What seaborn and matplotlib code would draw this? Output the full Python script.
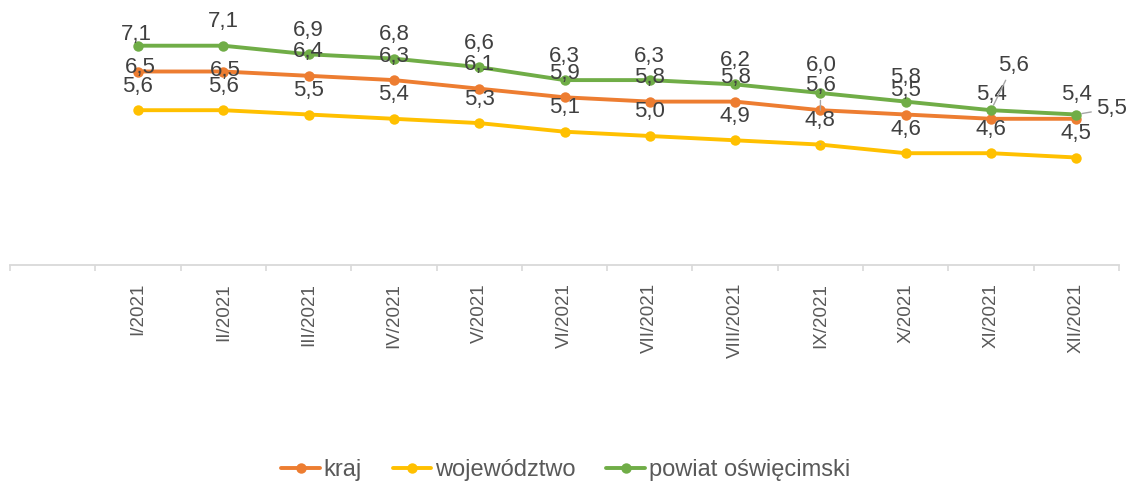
import matplotlib
matplotlib.use("Agg")
import matplotlib.pyplot as plt
import seaborn as sns
import pandas as pd
import numpy as np

# ---- data ----
months = ["I/2021", "II/2021", "III/2021", "IV/2021", "V/2021", "VI/2021",
          "VII/2021", "VIII/2021", "IX/2021", "X/2021", "XI/2021", "XII/2021"]
kraj = [6.5, 6.5, 6.4, 6.3, 6.1, 5.9, 5.8, 5.8, 5.6, 5.5, 5.4, 5.4]
wojewodztwo = [5.6, 5.6, 5.5, 5.4, 5.3, 5.1, 5.0, 4.9, 4.8, 4.6, 4.6, 4.5]
powiat = [7.1, 7.1, 6.9, 6.8, 6.6, 6.3, 6.3, 6.2, 6.0, 5.8, 5.6, 5.5]
series_names = ["kraj", "województwo", "powiat oświęcimski"]

sns.set_theme(style="white")
plt.rcParams["font.family"] = ["Liberation Sans", "DejaVu Sans"]

colors = {"kraj": "#ED7D31", "województwo": "#FFC000", "powiat oświęcimski": "#70AD47"}

# long-form table (first category of the axis is empty, months start at 1)
rows = []
for name, vals in zip(series_names, [kraj, wojewodztwo, powiat]):
    for i, v in enumerate(vals):
        rows.append({"pos": i + 1, "month": months[i], "series": name, "value": v})
df = pd.DataFrame(rows)

fig = plt.figure(figsize=(11.31, 4.87), dpi=100)
W, H = 1131, 487
ax = fig.add_axes([10 / W, 1 - 265 / H, (1119 - 10) / W, (265 - 7) / H])

sns.lineplot(data=df, x="pos", y="value", hue="series", hue_order=series_names,
             palette=colors, marker="o", markersize=7.5, markeredgewidth=0,
             linewidth=2.8, ax=ax, legend=True)

ax.set_xlim(-0.5, 12.5)
ax.set_ylim(2, 8)
ax.set_xlabel("")
ax.set_ylabel("")
ax.set_yticks([])
ax.set_xticks(np.arange(0, 13))
ax.set_xticklabels([""] + months, rotation=90, color="#595959", fontsize=13.5)
ax.set_xticks(np.arange(-0.5, 13.0, 1.0), minor=True)
ax.tick_params(axis="x", which="major", length=0, pad=13)
ax.tick_params(axis="x", which="minor", length=4.5, width=1.2, color="#d9d9d9", bottom=True)
for s in ["top", "right", "left"]:
    ax.spines[s].set_visible(False)
ax.spines["bottom"].set_color("#d9d9d9")
ax.spines["bottom"].set_linewidth(1.3)

# ---- data labels (offsets in pixels from each point, image-down positive) ----
default_off = (0, -24)
label_offsets = {
    "kraj": {0: (2, -4), 1: (2, -1), 8: (0, -25)},
    "województwo": {},
    "powiat oświęcimski": {0: (-2, -11), 8: (1, -28), 10: (22, -45), 11: (35, -6)},
}
leaders = {("powiat oświęcimski", 10): (1, 4), ("powiat oświęcimski", 11): (1, 4),
           ("województwo", 8): (7, 3), ("kraj", 8): (1, 11)}

for name, vals in zip(series_names, [kraj, wojewodztwo, powiat]):
    for i, v in enumerate(vals):
        dx, dy = label_offsets[name].get(i, default_off)
        kw = {}
        if (name, i) in leaders:
            sa, sb = leaders[(name, i)]
            kw["arrowprops"] = dict(arrowstyle="-", color="#a6a6a6", lw=1.0,
                                    shrinkA=sa, shrinkB=sb)
        ax.annotate(f"{v:.1f}".replace(".", ","), xy=(i + 1, v),
                    xytext=(dx, -dy), textcoords="offset pixels",
                    ha="center", va="center", fontsize=16, color="#404040",
                    zorder=5, **kw)

# ---- legend ----
handles, labels = ax.get_legend_handles_labels()
ax.get_legend().remove()
fig.legend(handles, labels, loc="center", bbox_to_anchor=(0.5, 1 - 470 / H),
           ncol=3, frameon=False, fontsize=17, handlelength=1.65,
           handletextpad=0.15, columnspacing=1.3, labelcolor="#595959")

fig.savefig("out.png", dpi=100)
